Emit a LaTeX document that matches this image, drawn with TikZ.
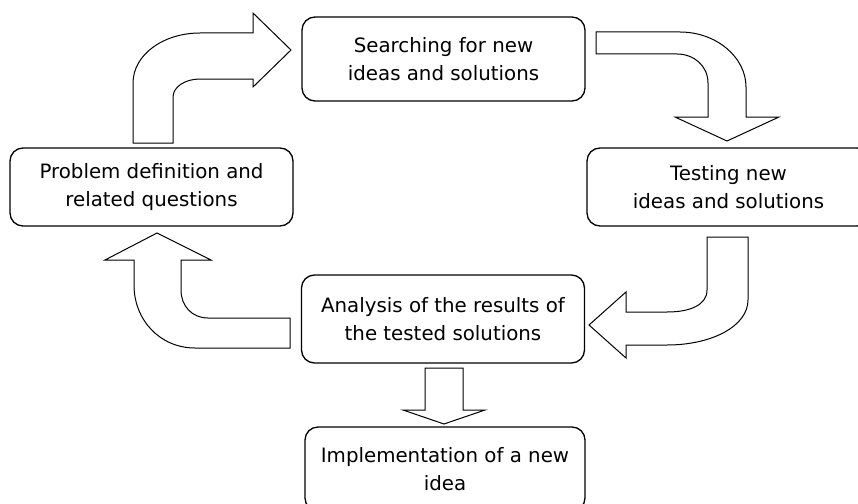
\documentclass[tikz,border=0pt]{standalone}
\usepackage{fontspec}
\setmainfont{DejaVu Sans}
\begin{document}
\begin{tikzpicture}[x=1pt, y=-1pt]
\tikzset{ stage/.style={draw, rounded corners=13pt, line width=1.3pt, align=center, minimum width=283pt, inner sep=0pt, font=\fontsize{19.8}{28}\selectfont},
          blockarrow/.style={draw, fill=white, line width=1pt, line join=miter}, }

\useasboundingbox (0,0) rectangle (858,503);

\node [stage, minimum height=78pt] (prob)   at (151.5,187) {Problem definition and\\related questions};
\node [stage, minimum height=84pt] (search) at (443.5,59)  {Searching for new\\ideas and solutions};
\node [stage, minimum height=78pt] (test)   at (728.5,187) {Testing new\\ideas and solutions};
\node [stage, minimum height=88pt] (anal)   at (443,319)   {Analysis of the results of\\the tested solutions};
\node [stage, minimum height=84pt, minimum width=280pt] (impl) at (445,469) {Implementation of a new\\idea};

% prob -> search
\draw [blockarrow] (133,143) -- (133,83) .. controls (133,55) and (163,33) .. (200,33) -- (253,33) -- (253,13)
      -- (291,50) -- (253,87) -- (253,79) -- (200,79) .. controls (185,79) and (173,87) .. (173,97) -- (173,143) -- cycle;
% search -> test
\draw [blockarrow] (596,32) -- (680,32) .. controls (716,32) and (746,57) .. (746,87) -- (746,117) -- (779,117)
      -- (727,141) -- (675,117) -- (708,117) -- (708,83) .. controls (708,66) and (694,54) .. (677,54) -- (596,54) -- cycle;
% test -> anal
\draw [blockarrow] (707,237) -- (748,237) -- (748,300) .. controls (748,326) and (712,345) .. (667,345) -- (626,345)
      -- (626,358) -- (589,325) -- (626,292) -- (626,312) -- (667,312) .. controls (690,312) and (707,305) .. (707,290) -- cycle;
% anal -> prob
\draw [blockarrow] (290,318) -- (290,348) -- (195,348) .. controls (160,348) and (134,320) .. (134,285) -- (134,260)
      -- (105,260) -- (157,233) -- (211,260) -- (181,260) -- (181,290) .. controls (181,306) and (192,318) .. (208,318) -- cycle;
% anal -> impl
\draw [blockarrow] (425,368) -- (463,368) -- (463,410) -- (485,410) -- (444,424) -- (403,410) -- (425,410) -- cycle;

\end{tikzpicture}
\end{document}
